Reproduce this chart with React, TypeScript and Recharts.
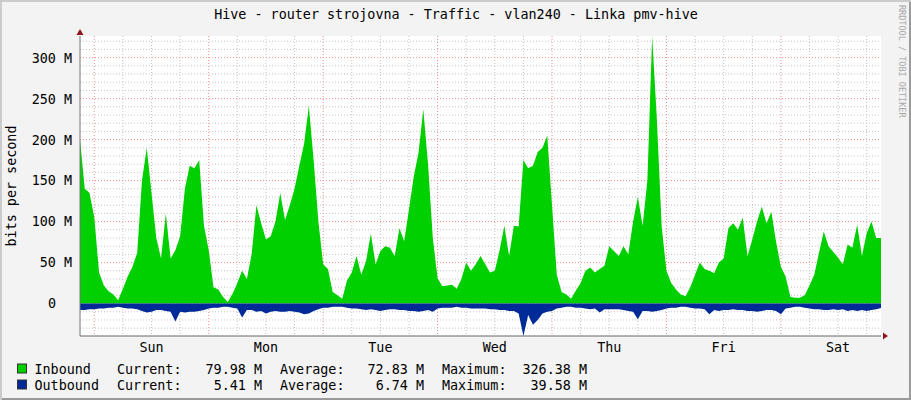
import React from 'react';
import { ComposedChart, Area, XAxis, YAxis, CartesianGrid, ReferenceDot } from 'recharts';

// one sample per hour, hour 0 = Saturday 21:00, hour 168 = end of graph
const inboundM = [
  200, 140, 135, 105, 38, 22, 15, 11, 4, 18,
  33, 45, 62, 150, 190, 135, 80, 55, 110, 55,
  65, 82, 140, 168, 165, 175, 95, 65, 20, 17,
  8, 2, 12, 25, 40, 30, 60, 120, 98, 78,
  82, 100, 135, 102, 120, 140, 168, 195, 241, 175,
  100, 48, 42, 14, 10, 6, 28, 38, 58, 35,
  52, 85, 48, 64, 70, 68, 58, 92, 76, 115,
  155, 184, 237, 170, 80, 31, 21, 22, 23, 18,
  30, 50, 40, 48, 58, 48, 38, 40, 65, 95,
  58, 95, 94, 175, 165, 168, 185, 190, 205, 120,
  35, 14, 11, 6, 16, 25, 40, 44, 38, 42,
  46, 70, 64, 58, 70, 60, 100, 130, 95, 150,
  326, 224, 94, 40, 25, 17, 11, 9, 20, 35,
  50, 42, 40, 37, 50, 55, 92, 98, 90, 105,
  58, 78, 100, 118, 98, 112, 75, 45, 33, 8,
  7, 7, 10, 22, 35, 62, 88, 70, 63, 56,
  48, 72, 68, 96, 58, 86, 100, 80, 80,
];

const outboundM = [
  8, 8, 7, 7, 6, 6, 5, 5, 4, 5,
  6, 6, 7, 9, 11, 10, 8, 8, 9, 10,
  22, 10, 11, 10, 10, 9, 8, 6, 5, 5,
  4, 4, 5, 6, 17, 8, 8, 10, 9, 12,
  10, 9, 10, 10, 9, 10, 11, 13, 12, 9,
  7, 5, 5, 4, 4, 4, 5, 6, 6, 7,
  8, 7, 8, 9, 8, 7, 7, 8, 8, 9,
  9, 10, 9, 8, 10, 6, 5, 5, 5, 4,
  5, 5, 6, 6, 6, 6, 7, 7, 8, 8,
  9, 9, 12, 39.58, 14, 26, 20, 12, 10, 9,
  6, 5, 4, 4, 5, 5, 6, 7, 6, 11,
  7, 7, 7, 7, 8, 9, 10, 19, 9, 9,
  10, 9, 8, 6, 5, 5, 4, 4, 5, 6,
  6, 7, 13, 8, 9, 8, 8, 7, 8, 8,
  9, 9, 10, 9, 8, 8, 9, 13, 6, 5,
  4, 4, 5, 6, 7, 7, 8, 8, 7, 8,
  7, 9, 8, 9, 8, 9, 8, 7, 5.41,
];

const dayNames = ['Sun', 'Mon', 'Tue', 'Wed', 'Thu', 'Fri', 'Sat'];
const dayNoons = [15, 39, 63, 87, 111, 135, 159];
const midnights = [3, 27, 51, 75, 99, 123, 147];
const sixHours = midnights.flatMap((m) => [m + 6, m + 12, m + 18]);
const yTicks = [0, 50, 100, 150, 200, 250, 300];
const minorY: number[] = [];
for (let v = -30; v <= 320; v += 10) if (v % 50 !== 0) minorY.push(v);

const yMin = -39.58;
const yMax = 326.38;

const legendRows = [
  { name: 'Inbound', color: '#00CF00', current: '79.98 M', average: '72.83 M', maximum: '326.38 M' },
  { name: 'Outbound', color: '#002A97', current: '5.41 M', average: '6.74 M', maximum: '39.58 M' },
];

const data = inboundM.map((v, i) => ({ t: i, inbound: v, outbound: -outboundM[i] }));

const FONT = '"DejaVu Sans Mono", monospace';

const YTick = (props: any) => {
  const { x, y, payload } = props;
  const label = payload.value === 0 ? '0' : `${payload.value} M`;
  return (
    <text x={payload.value === 0 ? x - 24 : x - 8} y={y} dy={4.9} textAnchor="end" fontFamily={FONT} fontSize={13.4} fill="#000">
      {label}
    </text>
  );
};

const XTick = (props: any) => {
  const { x, y, payload } = props;
  return (
    <text x={x} y={y} dy={15.5} textAnchor="middle" fontFamily={FONT} fontSize={13.4} fill="#000">
      {dayNames[dayNoons.indexOf(payload.value)]}
    </text>
  );
};

const UpArrow = (p: any) => (
  <path d={`M${p.cx},${p.cy - 7} L${p.cx - 3.5},${p.cy - 1} L${p.cx + 3.5},${p.cy - 1} Z`} fill="#8B1A1A" />
);
const RightArrow = (p: any) => (
  <path d={`M${p.cx + 7},${p.cy} L${p.cx + 2},${p.cy - 3.5} L${p.cx + 2},${p.cy + 3.5} Z`} fill="#8B1A1A" />
);

export default function App() {
  return (
    <div
      style={{
        position: 'absolute', left: 0, top: 0, width: 911, height: 400, background: '#F3F3F3',
        boxShadow: 'inset 2px 2px 0 #CBCBCB, inset -2px -2px 0 #9A9A9A',
      }}
    >
      <ComposedChart width={911} height={400} data={data} margin={{ top: 36, right: 30, bottom: 34, left: 0 }}>
        <CartesianGrid
          fill="#FFFFFF"
          stroke="#C4C4C4"
          strokeDasharray="1 2"
          horizontalValues={minorY}
          verticalValues={sixHours}
        />
        <CartesianGrid
          stroke="#F09090"
          strokeDasharray="1 2"
          horizontalValues={yTicks}
          verticalValues={midnights}
        />
        <XAxis
          type="number"
          dataKey="t"
          domain={[0, 168]}
          ticks={dayNoons}
          tick={<XTick />}
          tickSize={0}
          tickMargin={0}
          height={30}
          axisLine={{ stroke: '#666' }}
          interval={0}
        />
        <YAxis
          type="number"
          domain={[yMin, yMax]}
          allowDataOverflow
          ticks={yTicks}
          tick={<YTick />}
          tickSize={0}
          tickMargin={0}
          width={80}
          axisLine={{ stroke: '#777' }}
          interval={0}
        />
        <Area type="linear" dataKey="inbound" stroke="none" fill="#00CF00" fillOpacity={1} isAnimationActive={false} dot={false} activeDot={false} />
        <Area type="linear" dataKey="outbound" stroke="none" fill="#002A97" fillOpacity={1} isAnimationActive={false} dot={false} activeDot={false} />
        <ReferenceDot x={0} y={yMax} r={0} shape={UpArrow} />
        <ReferenceDot x={168} y={yMin} r={0} shape={RightArrow} />
      </ComposedChart>

      <svg width={911} height={400} style={{ position: 'absolute', left: 0, top: 0, pointerEvents: 'none' }}>
        <text x={456} y={19} textAnchor="middle" fontFamily={FONT} fontSize={13.4} fill="#000">
          Hive - router strojovna - Traffic - vlan240 - Linka pmv-hive
        </text>
        <text
          x={11} y={186} transform="rotate(-90 11 186)" textAnchor="middle" dominantBaseline="central"
          fontFamily={FONT} fontSize={13.4} fill="#000"
        >
          bits per second
        </text>
        <text
          x={902} y={5} transform="rotate(90 902 5)" textAnchor="start" dominantBaseline="central"
          fontFamily={FONT} fontSize={8.5} fill="#A8A8A8"
        >
          RRDTOOL / TOBI OETIKER
        </text>
        {legendRows.map((row, i) => {
          const base = 374 + i * 16;
          return (
            <g key={row.name} fontFamily={FONT} fontSize={13.4} fill="#000">
              <rect x={17.5} y={base - 10} width={9} height={9} fill={row.color} stroke="#333" />
              <text x={34.5}>{''}</text>
              <text x={34.5} y={base}>{row.name}</text>
              <text x={117} y={base}>Current:</text>
              <text x={262} y={base} textAnchor="end">{row.current}</text>
              <text x={280} y={base}>Average:</text>
              <text x={424} y={base} textAnchor="end">{row.average}</text>
              <text x={442} y={base}>Maximum:</text>
              <text x={587} y={base} textAnchor="end">{row.maximum}</text>
            </g>
          );
        })}
      </svg>
    </div>
  );
}
